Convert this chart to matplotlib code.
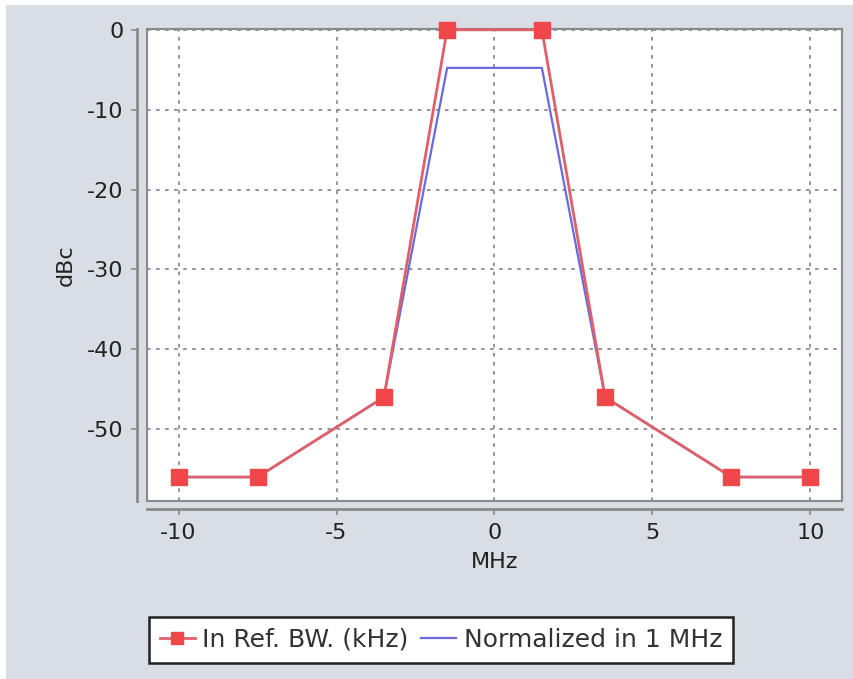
import matplotlib.pyplot as plt
from matplotlib.patches import Rectangle

freq = [-10, -7.5, -3.5, -1.5, 1.5, 3.5, 7.5, 10]
ref_bw = [-56, -56, -46, 0, 0, -46, -56, -56]
norm_1mhz = [-56, -56, -46, -4.77, -4.77, -46, -56, -56]

plt.rcParams['axes.unicode_minus'] = False

bg = '#d9dde4'
axc = '#8a8a8a'

fig = plt.figure(figsize=(8.54, 6.79), dpi=100)
fig.patch.set_facecolor('white')
fig.patches.append(Rectangle((6 / 854, 0), 1, 1 - 5 / 679, transform=fig.transFigure,
                             facecolor=bg, edgecolor='none', zorder=-10))

ax = fig.add_axes([147 / 854, 1 - 501 / 679, 695 / 854, 472 / 679])
ax.set_facecolor('white')

ax.plot(freq, norm_1mhz, color='#6a6ae0', linewidth=1.6, label='Normalized in 1 MHz', zorder=3)
ax.plot(freq, ref_bw, color='#e0606a', linewidth=2, marker='s', markersize=11,
        markerfacecolor='#f2474a', markeredgecolor='#f2474a', label='In Ref. BW. (kHz)',
        zorder=4, clip_on=False)

ax.set_xlim(-11, 11)
ax.set_ylim(-59, 0.1)
ax.set_xticks([-10, -5, 0, 5, 10])
ax.set_yticks([0, -10, -20, -30, -40, -50])

ax.grid(True, color='#8c8c8c', linestyle=(0, (2, 3)), linewidth=1.3)
ax.set_axisbelow(True)

for s in ['top', 'right']:
    ax.spines[s].set_color(axc)
    ax.spines[s].set_linewidth(1.5)
ax.spines['left'].set_position(('outward', 7))
ax.spines['bottom'].set_position(('outward', 6))
for s in ['left', 'bottom']:
    ax.spines[s].set_color(axc)
    ax.spines[s].set_linewidth(2)
ax.patch.set_edgecolor(axc)
ax.patch.set_linewidth(1.5)

ax.tick_params(colors=axc, length=4, width=1.2, labelsize=16, labelcolor='#222222', pad=6)

ax.set_xlabel('MHz', fontsize=16, color='#222222', labelpad=6)
ax.set_ylabel('dBc', fontsize=16, color='#222222', labelpad=8)

handles, labels = ax.get_legend_handles_labels()
leg = fig.legend(handles[::-1], labels[::-1], loc='center', bbox_to_anchor=(441 / 854, 1 - 640 / 679),
                 ncol=2, fontsize=18, frameon=True, fancybox=False, edgecolor='#222222',
                 framealpha=1, facecolor='white',
                 handlelength=1.4, handletextpad=0.3, columnspacing=0.5, borderpad=0.45,
                 borderaxespad=0, markerscale=0.8)
leg.get_frame().set_linewidth(1.8)
for t in leg.get_texts():
    t.set_color('#333333')

fig.savefig('out.png', dpi=100)
